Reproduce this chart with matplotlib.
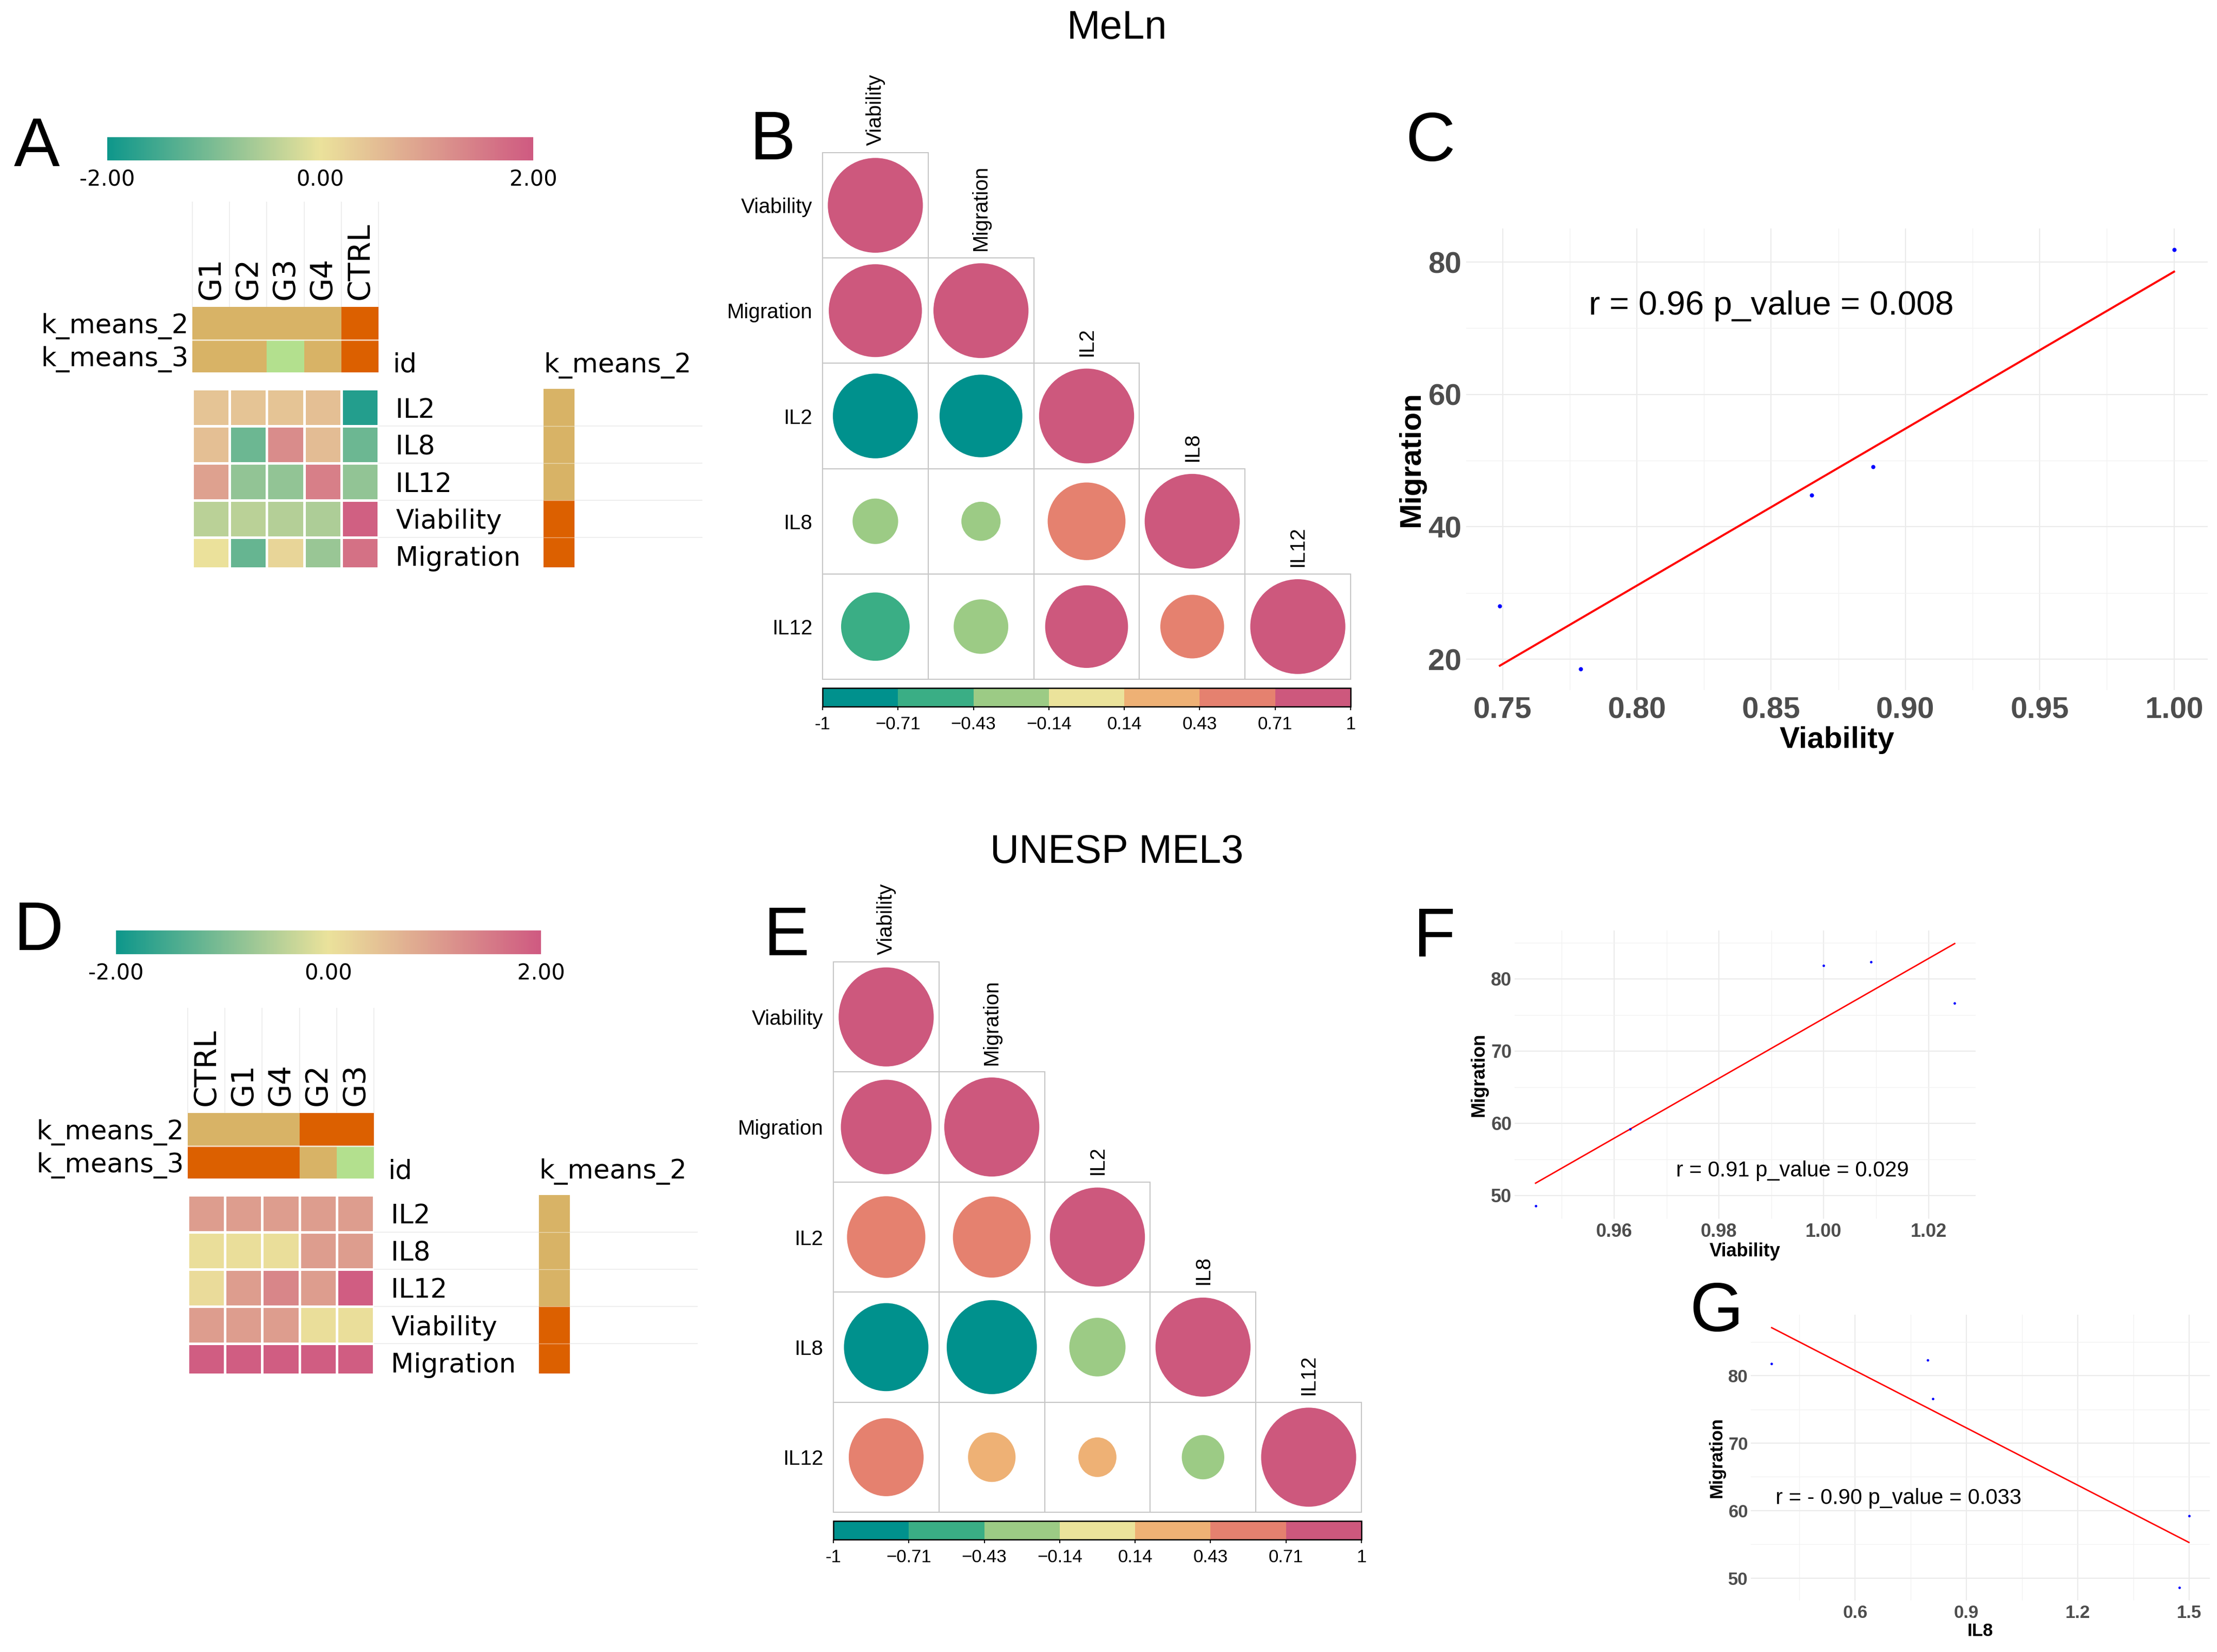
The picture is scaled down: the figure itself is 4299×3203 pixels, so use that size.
# -*- coding: utf-8 -*-
"""
Composite figure: clustered heatmaps, correlation circles and linear fits
for the MeLn and UNESP MEL3 cell lines.
"""

import numpy as np
import matplotlib as mpl

mpl.use("Agg")
from matplotlib import pyplot as plt
from matplotlib.cm import ScalarMappable
from matplotlib.collections import EllipseCollection
from matplotlib.colors import (
    BoundaryNorm,
    LinearSegmentedColormap,
    ListedColormap,
    Normalize,
)
from matplotlib.patches import Rectangle
from matplotlib.ticker import FormatStrFormatter, MultipleLocator

W, H = 4299, 3203
DPI = 100
ARIAL = "Liberation Sans"
HEAT_FONT = "DejaVu Sans"

HEAT_VARS = ["IL2", "IL8", "IL12", "Viability", "Migration"]
CORR_VARS = ["Viability", "Migration", "IL2", "IL8", "IL12"]

# MeLn
MELN_GROUPS = ["G1", "G2", "G3", "G4", "CTRL"]
MELN_Z = [
    [0.45, 0.45, 0.45, 0.5, -1.8],
    [0.5, -1.15, 1.25, 0.55, -1.15],
    [0.95, -0.8, -0.8, 1.45, -0.8],
    [-0.45, -0.45, -0.5, -0.55, 1.9],
    [0.0, -1.2, 0.2, -0.75, 1.65],
]
MELN_KM2 = [1, 1, 1, 1, 2]
MELN_KM3 = [1, 1, 3, 1, 2]
MELN_VAR_KM2 = [1, 1, 1, 2, 2]
MELN_CORR = [
    [1.00],
    [0.96, 1.00],
    [-0.80, -0.76, 1.00],
    [-0.23, -0.17, 0.67, 1.00],
    [-0.52, -0.33, 0.76, 0.45, 1.00],
]
MELN_VIAB = [0.749, 0.779, 0.865, 0.888, 1.000]
MELN_MIGR = [28.0, 18.5, 44.75, 49.05, 81.9]
MELN_TEXT = "r = 0.96 p_value = 0.008"

# UNESP MEL3
UNESP_GROUPS = ["CTRL", "G1", "G4", "G2", "G3"]
UNESP_Z = [
    [1.0, 1.0, 1.0, 1.0, 1.0],
    [0.05, 0.05, 0.05, 1.0, 1.0],
    [0.1, 1.0, 1.35, 1.0, 1.95],
    [1.0, 1.0, 1.0, 0.05, 0.05],
    [1.95, 1.95, 1.95, 1.95, 1.95],
]
UNESP_KM2 = [1, 1, 1, 2, 2]
UNESP_KM3 = [2, 2, 2, 1, 3]
UNESP_VAR_KM2 = [1, 1, 1, 2, 2]
UNESP_CORR = [
    [1.00],
    [0.91, 1.00],
    [0.68, 0.67, 1.00],
    [-0.79, -0.90, -0.35, 1.00],
    [0.62, 0.25, 0.16, -0.20, 1.00],
]
UNESP_VIAB = [0.945, 0.963, 1.000, 1.009, 1.025]
UNESP_IL8 = [1.474, 1.500, 0.375, 0.796, 0.809]
UNESP_MIGR = [48.6, 59.2, 81.8, 82.3, 76.6]
UNESP_TEXT_VIAB = "r = 0.91 p_value = 0.029"
UNESP_TEXT_IL8 = "r = - 0.90 p_value = 0.033"

HEAT_CMAP = LinearSegmentedColormap.from_list(
    "heat", ["#0e978b", "#ebe29b", "#cf5a81"]
)
CLUSTER_CMAP = ListedColormap(["#d8b366", "#dc6000", "#b3e08e"])
CLUSTER_NORM = BoundaryNorm([0.5, 1.5, 2.5, 3.5], 3)
CORR_COLORS = [
    "#00918d",
    "#3aae85",
    "#9ccb85",
    "#ebe39b",
    "#eeb175",
    "#e5816f",
    "#cd587d",
]
CORR_BOUNDS = np.linspace(-1, 1, 8)
CORR_TICK_LABELS = ["-1", "\u22120.71", "\u22120.43", "\u22120.14", "0.14", "0.43", "0.71", "1"]
CORR_CMAP = ListedColormap(CORR_COLORS)
CORR_NORM = BoundaryNorm(CORR_BOUNDS, len(CORR_COLORS))

plt.rcParams["font.family"] = ARIAL


def px_axes(fig, x0, y0, x1, y1):
    # axes placed with pixel box of the full-size picture
    return fig.add_axes([x0 / W, 1 - y1 / H, (x1 - x0) / W, (y1 - y0) / H])


def hide_spines(ax):
    for sp in ax.spines.values():
        sp.set_visible(False)


def heat_panel(fig, hx, hy, cbar_box, groups, z, km2, km3, var_km2, cut=14):
    ncol, nrow = len(groups), len(HEAT_VARS)
    hw, hh = ncol * 72.2, nrow * 72
    # the source screenshot trims the last row a little
    hb = hh - cut
    ybot = nrow - cut / 72
    # faint guide lines
    gv = px_axes(fig, hx, hy - 363, hx + hw, hy - 159)
    gv.vlines(np.arange(ncol + 1), 0, 1, color="#eeeeee", lw=1.5, clip_on=False)
    gv.set_xlim(0, ncol)
    gv.set_ylim(0, 1)
    gv.axis("off")
    gh = px_axes(fig, hx + hw, hy, hx + 989, hy + hb)
    gh.hlines(np.arange(1, nrow), 0, 1, color="#eeeeee", lw=1.5)
    gh.set_xlim(0, 1)
    gh.set_ylim(ybot, 0)
    gh.axis("off")

    ax = px_axes(fig, hx, hy, hx + hw, hy + hb)
    ax.pcolormesh(
        np.array(z), cmap=HEAT_CMAP, vmin=-2, vmax=2, edgecolors="white", linewidth=3.6
    )
    ax.set_ylim(ybot, 0)
    ax.set_xticks([])
    ax.yaxis.tick_right()
    ax.set_yticks(np.arange(nrow) + 0.5, HEAT_VARS, fontsize=37, family=HEAT_FONT)
    ax.tick_params(length=0, pad=24)
    hide_spines(ax)

    an = px_axes(fig, hx, hy - 159, hx + hw, hy - 32)
    an.pcolormesh(np.array([km2, km3]), cmap=CLUSTER_CMAP, norm=CLUSTER_NORM)
    an.axhline(1, color="white", lw=2, alpha=0.7)
    an.set_ylim(2, 0)
    an.xaxis.tick_top()
    an.set_xticks(np.arange(ncol) + 0.5, groups, rotation=90, fontsize=42, family=HEAT_FONT)
    an.set_yticks([0.5, 1.5], ["k_means_2", "k_means_3"], fontsize=37, family=HEAT_FONT)
    an.tick_params(axis="x", length=0, pad=10)
    an.tick_params(axis="y", length=0, pad=5)
    hide_spines(an)

    ra = px_axes(fig, hx + 681, hy, hx + 741, hy + hb)
    ra.pcolormesh(np.array(var_km2)[:, None], cmap=CLUSTER_CMAP, norm=CLUSTER_NORM)
    ra.hlines(np.arange(1, nrow), 0, 1, color="white", lw=1, alpha=0.5)
    ra.set_ylim(ybot, 0)
    ra.axis("off")

    fig.text((hx + 388) / W, 1 - (hy - 32) / H, "id", va="baseline", fontsize=37, family=HEAT_FONT)
    fig.text((hx + 681) / W, 1 - (hy - 32) / H, "k_means_2", va="baseline", fontsize=37, family=HEAT_FONT)

    cax = px_axes(fig, *cbar_box)
    ticks = [-2, 0, 2]
    cb = fig.colorbar(
        ScalarMappable(norm=Normalize(-2, 2), cmap=HEAT_CMAP),
        cax=cax,
        orientation="horizontal",
        ticks=ticks,
    )
    cb.ax.set_xticklabels([f"{t:.2f}" for t in ticks], fontsize=30, family=HEAT_FONT)
    cb.outline.set_visible(False)
    cb.ax.tick_params(length=0, pad=12)


def corr_panel(fig, box, cbar_box, corr):
    n = len(CORR_VARS)
    ax = px_axes(fig, *box)
    offs, diam, cols = [], [], []
    for i, row in enumerate(corr):
        for j, r in enumerate(row):
            ax.add_patch(
                Rectangle((j - 0.5, i - 0.5), 1, 1, fill=False, ec="#c6c6c6", lw=1.5, clip_on=False)
            )
            offs.append((j, i))
            diam.append(0.9 * np.sqrt(abs(r)))
            cols.append(CORR_CMAP(CORR_NORM(r)))
    ax.add_collection(
        EllipseCollection(
            diam,
            diam,
            np.zeros(len(diam)),
            units="xy",
            offsets=offs,
            offset_transform=ax.transData,
            facecolors=cols,
            edgecolors="none",
        )
    )
    ax.set_xlim(-0.5, n - 0.5)
    ax.set_ylim(n - 0.5, -0.5)
    ax.set_xticks([])
    ax.set_yticks(range(n), CORR_VARS, fontsize=29)
    ax.tick_params(length=0, pad=14)
    hide_spines(ax)
    for j, name in enumerate(CORR_VARS):
        ax.annotate(
            name,
            (j, j - 0.5),
            xytext=(0, 10),
            textcoords="offset points",
            rotation=90,
            ha="center",
            va="bottom",
            fontsize=29,
        )
    cax = px_axes(fig, *cbar_box)
    cb = fig.colorbar(
        ScalarMappable(norm=CORR_NORM, cmap=CORR_CMAP),
        cax=cax,
        orientation="horizontal",
        ticks=CORR_BOUNDS,
    )
    cb.ax.set_xticklabels(CORR_TICK_LABELS, fontsize=25)
    cb.outline.set_linewidth(1.8)
    cb.ax.tick_params(length=5, width=1.5, pad=8)


def scatter_panel(fig, box, x, y, xlabel, text, text_xy, xstep, ystep, xfmt, fs, fs_text, size, lw):
    ax = px_axes(fig, *box)
    ax.scatter(x, y, s=size, color="blue", linewidths=0, zorder=3)
    slope, icpt = np.polyfit(x, y, 1)
    xx = np.array([min(x), max(x)])
    ax.plot(xx, slope * xx + icpt, color="red", lw=lw, zorder=2)
    ax.margins(0.05)
    ax.xaxis.set_major_locator(MultipleLocator(xstep))
    ax.xaxis.set_minor_locator(MultipleLocator(xstep / 2))
    ax.yaxis.set_major_locator(MultipleLocator(ystep))
    ax.yaxis.set_minor_locator(MultipleLocator(ystep / 2))
    ax.xaxis.set_major_formatter(FormatStrFormatter(xfmt))
    ax.yaxis.set_major_formatter(FormatStrFormatter("%d"))
    ax.grid(which="major", color="#ebebeb", lw=1.6)
    ax.grid(which="minor", color="#f2f2f2", lw=1.0)
    ax.set_axisbelow(True)
    hide_spines(ax)
    ax.tick_params(which="both", length=0)
    ax.tick_params(axis="x", pad=fs * 0.22)
    ax.tick_params(axis="y", pad=fs * 0.15)
    for lab in ax.get_xticklabels() + ax.get_yticklabels():
        lab.set_fontsize(fs)
        lab.set_fontweight("bold")
        lab.set_color("#4d4d4d")
    ax.set_xlabel(xlabel, fontsize=fs, fontweight="bold", labelpad=2)
    ax.set_ylabel("Migration", fontsize=fs, fontweight="bold", labelpad=4)
    ax.text(text_xy[0], text_xy[1], text, ha="center", va="center", fontsize=fs_text)


def main():
    fig = plt.figure(figsize=(W / DPI, H / DPI), dpi=DPI, facecolor="white")

    fig.text(2166 / W, 1 - 55 / H, "MeLn", ha="center", va="center", fontsize=56)
    fig.text(2166 / W, 1 - 1653 / H, "UNESP MEL3", ha="center", va="center", fontsize=56)
    for letter, lx, ly in [
        ("A", 27, 225),
        ("B", 1454, 212),
        ("C", 2725, 215),
        ("D", 27, 1745),
        ("E", 1481, 1755),
        ("F", 2741, 1757),
        ("G", 3276, 2484),
    ]:
        fig.text(lx / W, 1 - ly / H, letter, ha="left", va="top", fontsize=96)

    heat_panel(fig, 373, 754, (208, 266, 1034, 311), MELN_GROUPS, MELN_Z, MELN_KM2, MELN_KM3, MELN_VAR_KM2)
    heat_panel(fig, 364, 2317, (225, 1804, 1049, 1850), UNESP_GROUPS, UNESP_Z, UNESP_KM2, UNESP_KM3, UNESP_VAR_KM2)

    corr_panel(fig, (1595, 296, 2619, 1317), (1595, 1334, 2619, 1370), MELN_CORR)
    corr_panel(fig, (1616, 1865, 2640, 2932), (1616, 2949, 2640, 2985), UNESP_CORR)

    scatter_panel(fig, (2843, 443, 4281, 1338), MELN_VIAB, MELN_MIGR, "Viability", MELN_TEXT,
                  (0.85, 73.4), 0.05, 20, "%.2f", 42, 47, 34, 2.9)
    scatter_panel(fig, (2937, 1804, 3831, 2363), UNESP_VIAB, UNESP_MIGR, "Viability", UNESP_TEXT_VIAB,
                  (0.994, 53.4), 0.02, 10, "%.2f", 26, 30, 12, 2.0)
    scatter_panel(fig, (3395, 2549, 4285, 3103), UNESP_IL8, UNESP_MIGR, "IL8", UNESP_TEXT_IL8,
                  (0.717, 61.8), 0.3, 10, "%.1f", 25, 30, 12, 2.0)

    fig.savefig("out.png", dpi=DPI, facecolor="white")
    plt.close(fig)


if __name__ == "__main__":
    main()
